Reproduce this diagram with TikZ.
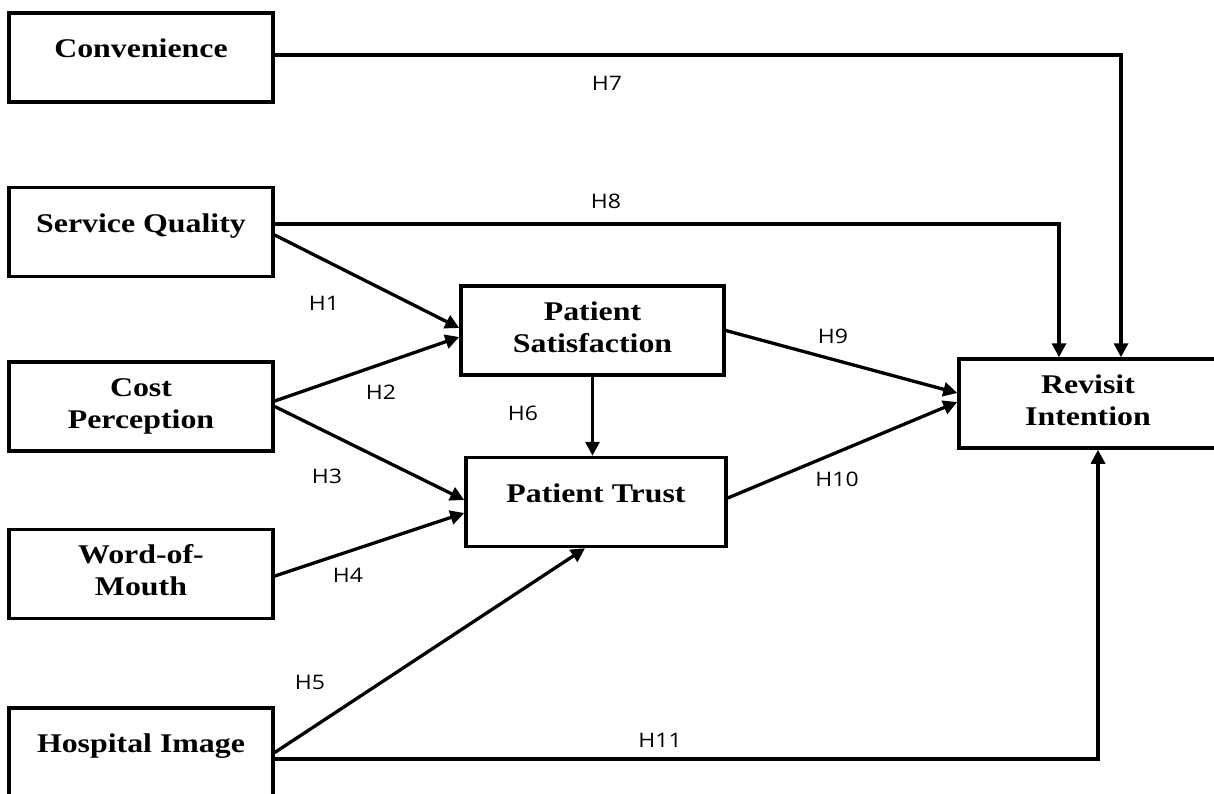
\documentclass[tikz,border=0pt]{standalone}
\usepackage{fontspec}
\newfontfamily\boxfont[FakeStretch=1.18]{Liberation Serif}
\newfontfamily\hypfont[FakeStretch=1.15]{Open Sans}
\usetikzlibrary{arrows.meta}

\begin{document}
\begin{tikzpicture}[x=1pt,y=-1pt,
  construct/.style={draw, line width=3.5pt, inner sep=0pt, align=center,
    font=\boxfont\bfseries\fontsize{27}{32}\selectfont, minimum height=89pt},
  oneline/.style={construct, text height=20pt, text depth=20pt},
  twoline/.style={construct, text height=52pt, text depth=9pt},
  link/.style={line width=3.3pt, -{Triangle[length=14pt,width=14pt]}},
  hyp/.style={font=\hypfont\fontsize{20}{24}\selectfont, inner sep=0pt}
]
% canvas
\fill[white] (0,0) rectangle (1214,793);
\useasboundingbox (0,0) rectangle (1214,793);

% constructs
\node[oneline, minimum width=264pt] (conv) at (141,57.5) {Convenience};
\node[oneline, minimum width=264pt] (sq)   at (141,232)  {Service Quality};
\node[twoline, minimum width=264pt] (cost) at (141,406.5) {Cost\\Perception};
\node[twoline, minimum width=264pt] (wom)  at (141,574)  {Word-of-\\Mouth};
\node[oneline, minimum width=264pt] (hosp) at (141,752.5) {Hospital Image};
\node[twoline, minimum width=263pt] (ps)   at (592.5,330.5) {Patient\\Satisfaction};
\node[oneline, minimum width=260pt] (pt)   at (596,502)  {Patient Trust};
\node[twoline, minimum width=258pt] (ri)   at (1088,403.5) {Revisit\\Intention};

% hypothesised paths
\draw[link] ([yshift=2.5pt]conv.east) -| ([xshift=33pt]ri.north);
\draw[link] ([yshift=8pt]sq.east) -| ([xshift=-29pt]ri.north);
\draw[link] ([yshift=-3pt]sq.east) -- ([yshift=2.5pt]ps.west);
\draw[link] ([yshift=5.5pt]cost.east) -- ([yshift=-6.5pt]ps.west);
\draw[link] (cost.east) -- ([yshift=2pt]pt.west);
\draw[link] ([yshift=-2pt]wom.east) -- ([yshift=-11pt]pt.west);
\draw[link] (hosp.east) -- ([xshift=-11pt]pt.south);
\draw[link] (ps.south) -- (ps.south |- pt.north);
\draw[link] (ps.east) -- ([yshift=10.5pt]ri.west);
\draw[link] ([yshift=4pt]pt.east) -- ([yshift=1.5pt]ri.west);
\draw[link] ([yshift=-6.5pt]hosp.east) -| ([xshift=10pt]ri.south);

% hypothesis labels
\node[hyp] (h1)  at (324,303) {H1};
\node[hyp] (h2)  at (381,392) {H2};
\node[hyp] (h3)  at (327,476) {H3};
\node[hyp] (h4)  at (348,575) {H4};
\node[hyp] (h5)  at (310,682) {H5};
\node[hyp] (h6)  at (523,413) {H6};
\node[hyp] (h7)  at (607,83)  {H7};
\node[hyp] (h8)  at (606,201) {H8};
\node[hyp] (h9)  at (833,336) {H9};
\node[hyp] (h10) at (837,479) {H10};
\node[hyp] (h11) at (660,740) {H11};
\end{tikzpicture}
\end{document}
